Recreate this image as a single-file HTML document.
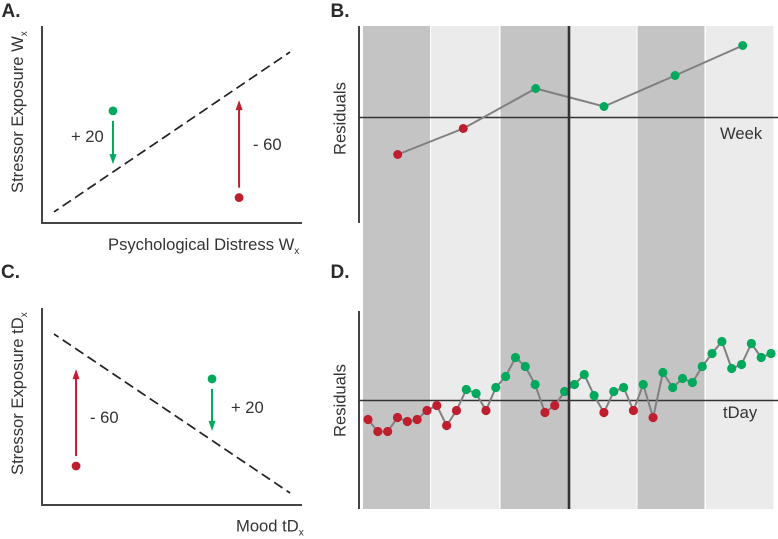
<!DOCTYPE html>
<html lang="en">
<head>
<meta charset="utf-8">
<title>Residuals figure</title>
<style>
html,body{margin:0;padding:0;background:#fff;width:778px;height:539px;overflow:hidden}
svg{display:block}
text{font-family:"Liberation Sans",Arial,sans-serif;fill:#333;font-size:16.6px}
.panel{font-weight:bold;font-size:19px;fill:#2b2b2b}
.sub{font-size:10px}
.axis{stroke:#444;stroke-width:2;fill:none}
.zero{stroke:#333;stroke-width:1.6;fill:none}
.mid{stroke:#333;stroke-width:2.6;fill:none}
.dark{fill:#c4c4c4}
.light{fill:#ebebeb}
</style>
</head>
<body>
<svg id="fig" width="778" height="539" viewBox="0 0 778 539" xmlns="http://www.w3.org/2000/svg">
  <g id="bands">
    <rect class="dark" x="363" y="26" width="67" height="483"/>
    <rect class="light" x="431" y="26" width="68" height="483"/>
    <rect class="dark" x="500.5" y="26" width="68" height="483"/>
    <rect class="light" x="570" y="26" width="66.500" height="483"/>
    <rect class="dark" x="637.500" y="26" width="67" height="483"/>
    <rect class="light" x="706" y="26" width="67.500" height="483"/>
  </g>

  <text class="panel" x="1.500" y="17">A.</text>
  <text class="panel" x="330.500" y="17">B.</text>
  <text class="panel" x="1" y="278">C.</text>
  <text class="panel" x="330.500" y="278">D.</text>

  <path class="axis" d="M42 26V223H302"/>
  <path class="axis" d="M42 308V505H302"/>
  <path class="axis" d="M359 26V223"/>
  <path class="axis" d="M359 311V509"/>
  <path class="zero" d="M359 117.500H778"/>
  <path class="zero" d="M359 400.500H778"/>

  <g id="layerA"></g>
  <g id="layerC"></g>
  <g id="layerB"></g>
  <g id="layerD"></g>

  <path class="mid" d="M569 26V509"/>

  <text transform="translate(23 193) rotate(-90)">Stressor Exposure W<tspan class="sub" dy="4">x</tspan></text>
  <text x="108" y="250">Psychological Distress W<tspan class="sub" dy="4">x</tspan></text>
  <text x="71" y="142">+ 20</text>
  <text x="253" y="150">- 60</text>

  <text transform="translate(23 475) rotate(-90)">Stressor Exposure tD<tspan class="sub" dy="4">x</tspan></text>
  <text x="236" y="531.500">Mood tD<tspan class="sub" dy="4">x</tspan></text>
  <text x="90" y="423">- 60</text>
  <text x="231" y="413">+ 20</text>

  <text transform="translate(345.500 155) rotate(-90)">Residuals</text>
  <text x="720" y="139">Week</text>
  <text transform="translate(345.500 437) rotate(-90)">Residuals</text>
  <text x="723" y="418">tDay</text>
</svg>
<script>
const GREEN = '#00a95c';
const RED = '#bf1e2e';
const NS = 'http://www.w3.org/2000/svg';

/* Panel A values */
const aLineX = [4.6, 95.4];
const aLineY = [5.6, 86.8];
const aGreenPoint = [27.3, 56.9];
const aGreenTarget = 29.9;
const aRedPoint = [75.8, 12.9];
const aRedTarget = 62.4;

/* Panel C values */
const cLineX = [4.6, 95.4];
const cLineY = [86.8, 6.1];
const cRedPoint = [13.1, 19.8];
const cRedTarget = 69;
const cGreenPoint = [65.4, 64];
const cGreenTarget = 37.6;

/* Panel B values */
const weeks = [1, 1.95, 3, 3.99, 5.02, 6];
const weekResiduals = [-37, -11, 29, 11, 42, 72];

/* Panel D values */
const days = [1,2,3,4,5,6,7,8,9,10,11,12,13,14,15,16,17,18,19,20,21,22,23,24,25,26,27,28,29,30,31,32,33,34,35,36,37,38,39,40,41,42];
const dayResiduals = [-19,-31,-31,-17,-21,-19,-10,-5,-25,-10,11,7,-10,13,24,43,34,16,-12,-5,9,16,26,5,-12,9,13,-10,16,-17,28,13,22,18,34,47,59,32,36,57,43,47];

const scaleAX = v => 42 + 2.6 * v;
const scaleAY = v => 223 - 1.97 * v;
const scaleCX = v => 42 + 2.6 * v;
const scaleCY = v => 505 - 1.97 * v;
const scaleWeekX = w => 397.7 + (w - 1) * 69;
const scaleWeekY = v => 117.5 - v;
const scaleDayX = d => 368 + (d - 1) * 9.83;
const scaleDayY = v => 400.5 - v;

function make(tag, parent) {
  const el = document.createElementNS(NS, tag);
  parent.appendChild(el);
  return el;
}

function drawDashed(parent, xs, ys, sx, sy) {
  const el = make('line', parent);
  
  
  el.setAttribute('x1', sx(xs[0]));
  el.setAttribute('y1', sy(ys[0]));
  el.setAttribute('x2', sx(xs[1]));
  el.setAttribute('y2', sy(ys[1]));
  el.setAttribute('stroke', '#222');
  el.setAttribute('stroke-width', '1.7');
  el.setAttribute('stroke-dasharray', '10 5');
  el.setAttribute('stroke-dashoffset', '4.500');
}

function drawDot(parent, cx, cy, color, r) {
  const el = make('circle', parent);
  
  
  el.setAttribute('cx', cx);
  el.setAttribute('cy', cy);
  el.setAttribute('r', r);
  el.setAttribute('fill', color);
}

function drawArrow(parent, x, fromY, tipY, color) {
  const dir = tipY > fromY ? 1 : -1;
  const shaft = make('line', parent);
  
  
  shaft.setAttribute('x1', x);
  shaft.setAttribute('x2', x);
  shaft.setAttribute('y1', fromY);
  shaft.setAttribute('y2', tipY - dir * 8);
  shaft.setAttribute('stroke', color);
  shaft.setAttribute('stroke-width', '2');
  const head = make('polygon', parent);
  
  
  head.setAttribute('points', (x - 3.5) + ',' + (tipY - dir * 10) + ' ' + (x + 3.5) + ',' + (tipY - dir * 10) + ' ' + x + ',' + tipY);
  head.setAttribute('fill', color);
}

function drawSeries(parent, xs, ys, sx, sy, r) {
  const pts = xs.map((x, i) => sx(x).toFixed(1) + ',' + sy(ys[i]).toFixed(1)).join(' ');
  const line = make('polyline', parent);
  
  
  line.setAttribute('points', pts);
  line.setAttribute('fill', 'none');
  line.setAttribute('stroke', '#808080');
  line.setAttribute('stroke-width', '2');
  xs.forEach((x, i) => {
    drawDot(parent, sx(x), sy(ys[i]), ys[i] < 0 ? RED : GREEN, r);
  });
}

const layerA = document.getElementById('layerA');
drawDashed(layerA, aLineX, aLineY, scaleAX, scaleAY);
drawDot(layerA, scaleAX(aGreenPoint[0]), scaleAY(aGreenPoint[1]), GREEN, 4.4);
drawArrow(layerA, scaleAX(aGreenPoint[0]), scaleAY(aGreenPoint[1]) + 10, scaleAY(aGreenTarget), GREEN);
drawDot(layerA, scaleAX(aRedPoint[0]), scaleAY(aRedPoint[1]), RED, 4.4);
drawArrow(layerA, scaleAX(aRedPoint[0]), scaleAY(aRedPoint[1]) - 10, scaleAY(aRedTarget), RED);

const layerC = document.getElementById('layerC');
drawDashed(layerC, cLineX, cLineY, scaleCX, scaleCY);
drawDot(layerC, scaleCX(cRedPoint[0]), scaleCY(cRedPoint[1]), RED, 4.4);
drawArrow(layerC, scaleCX(cRedPoint[0]), scaleCY(cRedPoint[1]) - 10, scaleCY(cRedTarget), RED);
drawDot(layerC, scaleCX(cGreenPoint[0]), scaleCY(cGreenPoint[1]), GREEN, 4.4);
drawArrow(layerC, scaleCX(cGreenPoint[0]), scaleCY(cGreenPoint[1]) + 10, scaleCY(cGreenTarget), GREEN);

drawSeries(document.getElementById('layerB'), weeks, weekResiduals, scaleWeekX, scaleWeekY, 4.5);
drawSeries(document.getElementById('layerD'), days, dayResiduals, scaleDayX, scaleDayY, 4.6);
</script>
</body>
</html>
